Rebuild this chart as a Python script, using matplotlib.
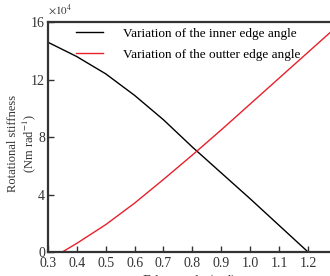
import numpy as np
import matplotlib.pyplot as plt

plt.rcParams['font.family'] = 'Liberation Serif'
plt.rcParams['mathtext.fontset'] = 'stix'

# edge angle (rad) and rotational stiffness (x1e4 Nm/rad)
inner_x = [0.3, 0.4, 0.5, 0.6, 0.7, 0.8, 0.9, 1.0, 1.1, 1.2]
inner_y = [14.6, 13.6, 12.4, 10.9, 9.2, 7.3, 5.5, 3.7, 1.85, 0.0]

outer_x = [0.35, 0.4, 0.5, 0.6, 0.7, 0.8, 0.9, 1.0, 1.1, 1.2, 1.3]
outer_y = [0.0, 0.6, 1.9, 3.4, 5.05, 6.75, 8.5, 10.3, 12.1, 13.9, 15.7]

fig = plt.figure(figsize=(3.3, 2.76), dpi=100)
ax = fig.add_axes([0.145, 0.087, 0.855, 0.833])

ax.plot(inner_x, inner_y, color='black', lw=1.0,
        label='Variation of the inner edge angle')
ax.plot(outer_x, outer_y, color='#e8202a', lw=1.0,
        label='Variation of the outter edge angle')

ax.set_xlim(0.3, 1.276)
ax.set_ylim(0, 16)
ax.set_xticks(np.round(np.arange(0.3, 1.21, 0.1), 1))
ax.set_xticklabels(['0.3', '0.4', '0.5', '0.6', '0.7', '0.8', '0.9', '1.0', '1.1', '1.2'])
ax.set_yticks([0, 4, 8, 12, 16])
ax.tick_params(direction='in', labelsize=10, length=4, width=1, colors='#333333')
ax.tick_params(axis='y', pad=2)
for s in ['left', 'bottom', 'top']:
    ax.spines[s].set_linewidth(1.6)
    ax.spines[s].set_color('#333333')
ax.spines['right'].set_visible(False)

ax.text(0.0, 1.02, r'$\times10^4$', transform=ax.transAxes, fontsize=8,
        color='#333333', va='bottom', ha='left')

ax.set_ylabel('Rotational stiffness\n(Nm rad$^{-1}$)', fontsize=9, color='#333333',
              linespacing=1.15)
ax.yaxis.set_label_coords(-0.035, 0.47)
ax.set_xlabel('Edge angle (rad)', fontsize=10, color='#333333', labelpad=3)

ax.legend(loc='upper left', frameon=False, fontsize=9.5, handlelength=2.1,
          bbox_to_anchor=(0.07, 1.01), borderaxespad=0.2, labelspacing=0.65,
          handletextpad=1.5)

fig.savefig('out.png', dpi=100)
